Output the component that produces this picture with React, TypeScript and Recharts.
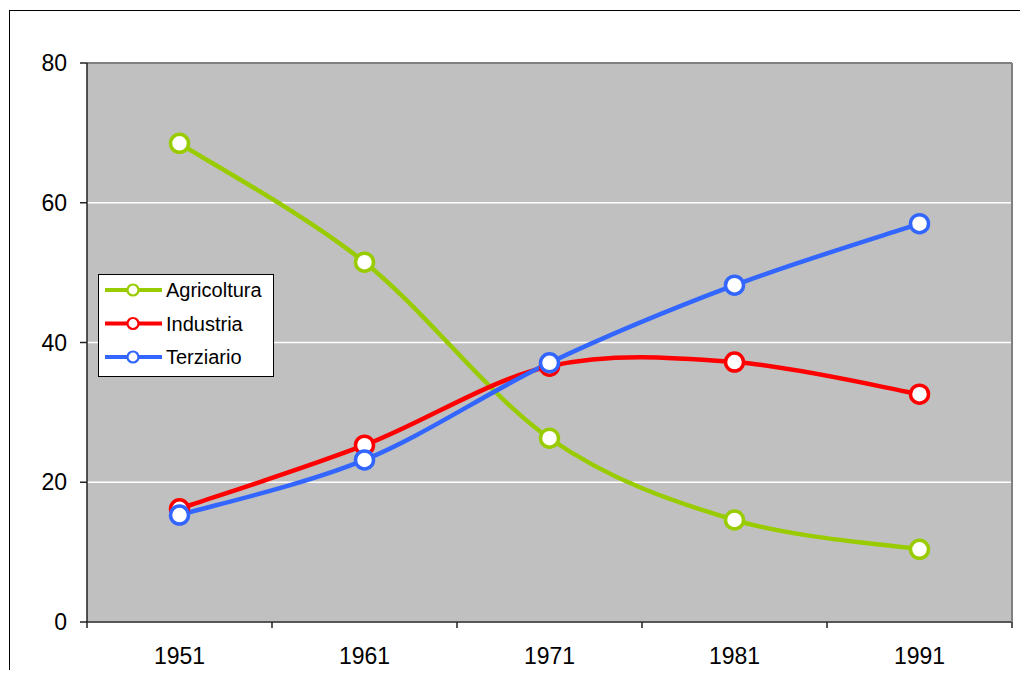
import { LineChart, Line, XAxis, YAxis, CartesianGrid, ReferenceLine } from "recharts";

// Census years and sector shares (% of workforce).
const YEARS = ["1951", "1961", "1971", "1981", "1991"];
const AGRICOLTURA = [68.5, 51.5, 26.3, 14.6, 10.4];
const INDUSTRIA = [16.2, 25.3, 36.6, 37.2, 32.6];
const TERZIARIO = [15.3, 23.2, 37.1, 48.2, 57.0];
const Y_TICKS = [0, 20, 40, 60, 80];

const SERIES = [
  { key: "Agricoltura", color: "#99CC00" },
  { key: "Industria", color: "#FF0000" },
  { key: "Terziario", color: "#3366FF" },
];

const data = YEARS.map((year, i) => ({
  year,
  Agricoltura: AGRICOLTURA[i],
  Industria: INDUSTRIA[i],
  Terziario: TERZIARIO[i],
}));

const FONT = '"Liberation Sans", Arial, sans-serif';
const CHART_W = 1020;
const CHART_H = 670;
const MARGIN = { top: 55, right: 0, left: 0, bottom: 0 };
const Y_AXIS_W = 79;
const RIGHT_W = 16;
const X_AXIS_H = 56;
const PLOT_W = CHART_W - Y_AXIS_W - RIGHT_W;
const HALF_BAND = PLOT_W / YEARS.length / 2;

// Excel-like smoothed line: Catmull-Rom converted to cubic Bezier segments.
const excelSmooth = (context: any) => {
  let xs: number[] = [];
  let ys: number[] = [];
  return {
    areaStart() {},
    areaEnd() {},
    lineStart() {
      xs = [];
      ys = [];
    },
    point(x: number, y: number) {
      xs.push(+x);
      ys.push(+y);
    },
    lineEnd() {
      const n = xs.length;
      if (!n) return;
      context.moveTo(xs[0], ys[0]);
      for (let i = 0; i < n - 1; i++) {
        const p = Math.max(i - 1, 0);
        const q = Math.min(i + 2, n - 1);
        context.bezierCurveTo(
          xs[i] + (xs[i + 1] - xs[p]) / 6,
          ys[i] + (ys[i + 1] - ys[p]) / 6,
          xs[i + 1] - (xs[q] - xs[i]) / 6,
          ys[i + 1] - (ys[q] - ys[i]) / 6,
          xs[i + 1],
          ys[i + 1]
        );
      }
    },
  };
};

// Category labels centred in their band, tick marks on the band edges.
function YearTick(props: any) {
  const { x, y, payload, index } = props;
  const last = index === YEARS.length - 1;
  return (
    <g>
      <line x1={x - HALF_BAND} x2={x - HALF_BAND} y1={y} y2={y + 6} stroke="#222" strokeWidth={1.5} />
      {last && <line x1={x + HALF_BAND} x2={x + HALF_BAND} y1={y} y2={y + 6} stroke="#222" strokeWidth={1.5} />}
      <text x={x} y={y + 42} textAnchor="middle" fontSize={23} fontFamily={FONT} fill="#000">
        {payload.value}
      </text>
    </g>
  );
}

function LegendBox() {
  return (
    <svg width={176} height={103} style={{ display: "block" }}>
      <rect x={0.5} y={0.5} width={175} height={102} fill="#fff" stroke="#000" strokeWidth={1} />
      {SERIES.map((s, i) => {
        const cy = 16 + i * 33.5;
        return (
          <g key={s.key}>
            <line x1={7} x2={64} y1={cy} y2={cy} stroke={s.color} strokeWidth={4} />
            <circle cx={35} cy={cy} r={5.5} fill="#fff" stroke={s.color} strokeWidth={2.2} />
            <text x={68} y={cy + 7} fontSize={20} fontFamily={FONT} fill="#000">
              {s.key}
            </text>
          </g>
        );
      })}
    </svg>
  );
}

export default function App() {
  return (
    <div
      style={{
        position: "relative",
        width: CHART_W,
        height: CHART_H,
        marginBottom: -8,
        overflow: "hidden",
        background: "#fff",
      }}
    >
      <div
        style={{
          position: "absolute",
          left: 1,
          top: 2,
          width: 3000,
          height: 3000,
          border: "1.5px solid #000",
          pointerEvents: "none",
        }}
      />
      <LineChart width={CHART_W} height={CHART_H} data={data} margin={MARGIN} style={{ fontFamily: FONT }}>
        <CartesianGrid vertical={false} stroke="#fff" strokeWidth={1.5} fill="#C0C0C0" fillOpacity={1} />
        <ReferenceLine y={80} stroke="#808080" strokeWidth={2} />
        <XAxis
          dataKey="year"
          height={X_AXIS_H}
          padding={{ left: HALF_BAND, right: HALF_BAND }}
          axisLine={{ stroke: "#222", strokeWidth: 1.5 }}
          tickLine={false}
          tickSize={0}
          tickMargin={0}
          tick={<YearTick />}
          interval={0}
        />
        <YAxis
          width={Y_AXIS_W}
          domain={[0, 80]}
          ticks={Y_TICKS}
          tickSize={7}
          tickMargin={13}
          axisLine={{ stroke: "#222", strokeWidth: 1.5 }}
          tickLine={{ stroke: "#222", strokeWidth: 1.5 }}
          tick={{ fontSize: 23, fill: "#000", fontFamily: FONT }}
        />
        <YAxis
          yAxisId="right"
          orientation="right"
          width={RIGHT_W}
          domain={[0, 80]}
          tick={false}
          tickLine={false}
          axisLine={{ stroke: "#808080", strokeWidth: 2 }}
        />
        {SERIES.map((s) => (
          <Line
            key={s.key}
            dataKey={s.key}
            type={excelSmooth as any}
            stroke={s.color}
            strokeWidth={4.5}
            dot={{ r: 9, fill: "#fff", stroke: s.color, strokeWidth: 3.5 }}
            activeDot={false}
            isAnimationActive={false}
          />
        ))}
      </LineChart>
      <div style={{ position: "absolute", left: 90, top: 266 }}>
        <LegendBox />
      </div>
    </div>
  );
}
